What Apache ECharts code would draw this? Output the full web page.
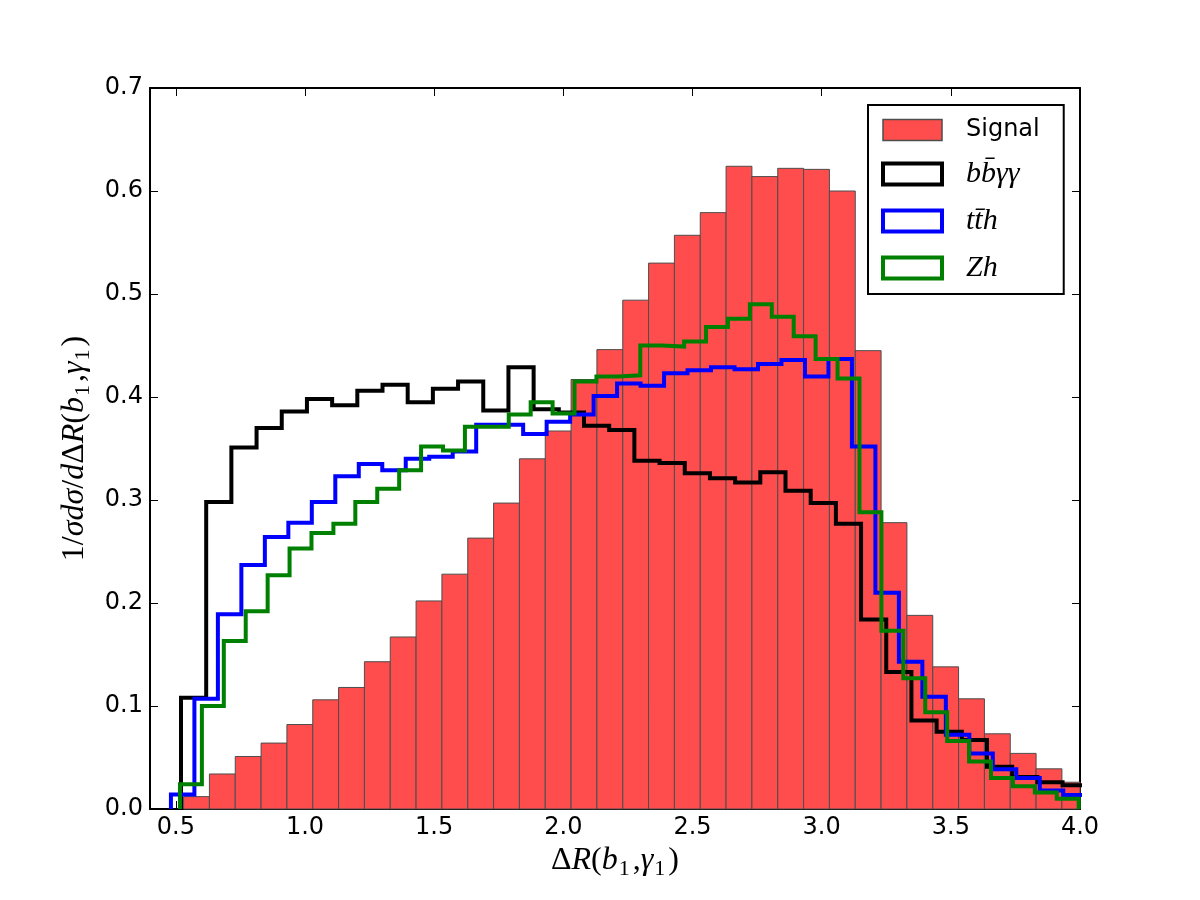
<!DOCTYPE html>
<html><head><meta charset="utf-8">
<script src="https://cdn.jsdelivr.net/npm/echarts@6/dist/echarts.min.js"></script>
<style>html,body{margin:0;padding:0;background:#fff}#c{width:1200px;height:900px}</style>
</head><body><div id="c"></div>
<script>
// ---- data ----
const xTicks = [0.5, 1.0, 1.5, 2.0, 2.5, 3.0, 3.5, 4.0];
const yTicks = [0.0, 0.1, 0.2, 0.3, 0.4, 0.5, 0.6, 0.7];

// Signal histogram: first bin edge and bin width, then bin heights
const signalEdge0 = 0.53, signalBinW = 0.1;
const signal = [0.012,0.034,0.051,0.064,0.082,0.106,0.118,0.143,0.167,0.202,
  0.228,0.263,0.297,0.340,0.367,0.417,0.446,0.494,0.530,0.557,
  0.579,0.624,0.614,0.622,0.621,0.600,0.445,0.278,0.188,0.138,
  0.107,0.073,0.054,0.039,0.026];

// b bbar gamma gamma
const bbaaEdge0 = 0.52, bbaaBinW = 0.0975;
const bbaa = [0.108,0.298,0.351,0.370,0.386,0.398,0.392,0.406,0.412,0.395,
  0.408,0.415,0.387,0.429,0.388,0.385,0.372,0.368,0.338,0.336,
  0.326,0.321,0.317,0.327,0.309,0.297,0.277,0.184,0.133,0.086,
  0.075,0.067,0.041,0.031,0.026,0.023];

// t tbar h
const tthEdge0 = 0.481, tthBinW = 0.0909;
const tth = [0.014,0.107,0.189,0.237,0.264,0.278,0.298,0.323,0.335,0.329,
  0.340,0.342,0.347,0.373,0.373,0.364,0.376,0.383,0.401,0.413,
  0.411,0.423,0.426,0.429,0.427,0.432,0.436,0.420,0.437,0.352,
  0.210,0.143,0.109,0.072,0.054,0.0385,0.030,0.018,0.0136];

// Z h
const zhEdge0 = 0.516, zhBinW = 0.08485;
const zh = [0.024,0.100,0.163,0.192,0.227,0.253,0.268,0.277,0.298,0.311,
  0.329,0.352,0.348,0.371,0.371,0.383,0.395,0.384,0.415,0.420,
  0.421,0.450,0.449,0.454,0.468,0.476,0.490,0.478,0.459,0.437,
  0.418,0.288,0.173,0.127,0.094,0.066,0.046,0.030,0.022,0.016,0.010];

// ---- helpers ----
function stepPoints(e0, w, vals) {
  const pts = [[e0, 0]];
  vals.forEach((v, i) => { const a = e0 + i * w; pts.push([a, v], [a + w, v]); });
  pts.push([e0 + vals.length * w, 0]);
  return pts;
}

const tickFont = { fontFamily: 'DejaVu Sans', fontSize: 24, color: '#000' };
const mathRich = {
  it: { fontFamily: 'Liberation Serif', fontStyle: 'italic', fontSize: 32, lineHeight: 38, color: '#000' },
  up: { fontFamily: 'Liberation Serif', fontSize: 32, lineHeight: 38, color: '#000' },
  sub: { fontFamily: 'Liberation Serif', fontSize: 22, verticalAlign: 'bottom', color: '#000', padding: [0, 3, 0, 1] }
};

const chart = echarts.init(document.getElementById('c'), null, { renderer: 'canvas' });

const xCommon = {
  type: 'value', min: 0.4, max: 4.0,
  splitLine: { show: false },
  axisLine: { show: true, onZero: false, lineStyle: { color: '#000', width: 2 } },
  axisTick: { show: true, inside: true, length: 8, customValues: xTicks, lineStyle: { color: '#000', width: 1 } }
};
const yCommon = {
  type: 'value', min: 0, max: 0.7,
  splitLine: { show: false },
  axisLine: { show: true, onZero: false, lineStyle: { color: '#000', width: 2 } },
  axisTick: { show: true, inside: true, length: 8, customValues: yTicks, lineStyle: { color: '#000', width: 1 } }
};

chart.setOption({
  animation: false,
  backgroundColor: '#fff',
  grid: { left: 150, right: 120, top: 88, bottom: 91, containLabel: false },
  xAxis: [
    Object.assign({}, xCommon, {
      position: 'bottom',
      axisLabel: Object.assign({ show: true, margin: 7, customValues: xTicks, formatter: v => v.toFixed(1) }, tickFont),
      name: '{up|Δ}{it|R}{up|(}{it|b}{sub|1}{up|,}{it|γ}{sub|1}{up|)}',
      nameLocation: 'middle', nameGap: 24,
      nameTextStyle: { rich: mathRich, verticalAlign: 'top' }
    }),
    Object.assign({}, xCommon, { position: 'top', axisLabel: { show: false } })
  ],
  yAxis: [
    Object.assign({}, yCommon, {
      position: 'left',
      axisLabel: Object.assign({ show: true, margin: 7, customValues: yTicks, formatter: v => v.toFixed(1) }, tickFont),
      name: '{up|1/}{it|σdσ}{up|/}{it|d}{up|Δ}{it|R}{up|(}{it|b}{sub|1}{up|,}{it|γ}{sub|1}{up|)}',
      nameLocation: 'middle', nameGap: 54, nameRotate: 90,
      nameTextStyle: { rich: mathRich }
    }),
    Object.assign({}, yCommon, { position: 'right', axisLabel: { show: false } })
  ],
  legend: {
    orient: 'vertical', left: 868, top: 105,
    backgroundColor: '#fff', borderColor: '#000', borderWidth: 2, borderRadius: 0,
    padding: [13, 24, 11, 13],
    itemWidth: 59, itemHeight: 21, itemGap: 17,
    selectedMode: false,
    data: [
      { name: 'Signal', icon: 'rect', itemStyle: { color: '#ff4d4d', borderColor: '#4d4d4d', borderWidth: 1.5 } },
      { name: 'bbaa', icon: 'rect', itemStyle: { color: '#fff', borderColor: '#000', borderWidth: 4 } },
      { name: 'tth', icon: 'rect', itemStyle: { color: '#fff', borderColor: '#0000ff', borderWidth: 4 } },
      { name: 'Zh', icon: 'rect', itemStyle: { color: '#fff', borderColor: '#008000', borderWidth: 4 } }
    ],
    formatter: function (name) {
      if (name === 'Signal') return '{s|Signal}';
      if (name === 'bbaa') return '{m|bb\u0304γγ}';
      if (name === 'tth') return '{m|tt\u0304h}';
      return '{m|Zh}';
    },
    textStyle: {
      rich: {
        s: { fontFamily: 'DejaVu Sans', fontSize: 24, color: '#000', padding: [0, 0, 0, 19], lineHeight: 27 },
        m: { fontFamily: 'Liberation Serif', fontStyle: 'italic', fontSize: 30, color: '#000', padding: [0, 0, 0, 19], lineHeight: 27 }
      }
    }
  },
  series: [
    {
      name: 'Signal', type: 'custom', z: 1,
      renderItem: function (params, api) {
        const a = api.value(0), b = api.value(1), v = api.value(2);
        const p0 = api.coord([a, v]), p1 = api.coord([b, 0]);
        const cs = params.coordSys;
        const r = echarts.graphic.clipRectByRect(
          { x: p0[0], y: p0[1], width: p1[0] - p0[0], height: p1[1] - p0[1] },
          { x: cs.x, y: cs.y, width: cs.width, height: cs.height });
        if (!r) return null;
        return { type: 'rect', shape: r, style: { fill: '#ff4d4d', stroke: '#4d4d4d', lineWidth: 1 } };
      },
      encode: { x: [0, 1], y: 2 },
      data: signal.map((v, i) => [signalEdge0 + i * signalBinW, signalEdge0 + (i + 1) * signalBinW, v])
    },
    {
      name: 'bbaa', type: 'line', z: 3, showSymbol: false, symbol: 'none', clip: true,
      lineStyle: { color: '#000', width: 4, join: 'miter' }, itemStyle: { color: '#000' },
      data: stepPoints(bbaaEdge0, bbaaBinW, bbaa)
    },
    {
      name: 'tth', type: 'line', z: 4, showSymbol: false, symbol: 'none', clip: true,
      lineStyle: { color: '#0000ff', width: 4, join: 'miter' }, itemStyle: { color: '#0000ff' },
      data: stepPoints(tthEdge0, tthBinW, tth)
    },
    {
      name: 'Zh', type: 'line', z: 5, showSymbol: false, symbol: 'none', clip: true,
      lineStyle: { color: '#008000', width: 4, join: 'miter' }, itemStyle: { color: '#008000' },
      data: stepPoints(zhEdge0, zhBinW, zh)
    }
  ]
});
</script></body></html>
